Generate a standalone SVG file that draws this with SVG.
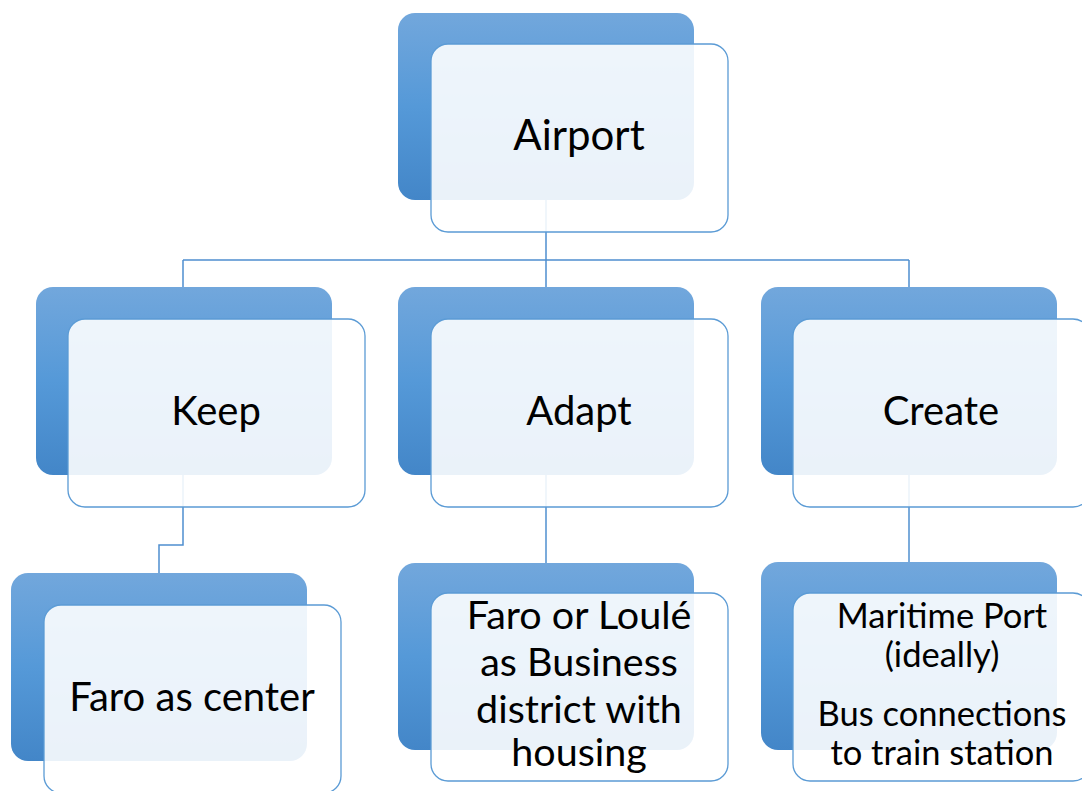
<svg xmlns="http://www.w3.org/2000/svg" width="1082" height="791" viewBox="0 0 1082 791">
<defs>
<linearGradient id="bg" x1="0" y1="0" x2="0" y2="1">
<stop offset="0" stop-color="#72a7dc"/>
<stop offset="0.5" stop-color="#5599d8"/>
<stop offset="1" stop-color="#4386c8"/>
</linearGradient>
</defs>
<style>
.back{fill:url(#bg);}
.front{fill:#ffffff;fill-opacity:0.89;stroke:#5b9bd5;stroke-width:1.3;}
.conn{fill:none;stroke:#4f8fcf;stroke-width:1.5;}
text{font-family:Lato,"Liberation Sans",sans-serif;fill:#000;text-anchor:middle;}
.t1{font-size:40px;}
.ta{font-size:42px;}
.t2{font-size:39.5px;}
.t3{font-size:34.5px;}
</style>
<rect width="1082" height="791" fill="#ffffff"/>
<g id="connectors">
<path class="conn" d="M546,200 V260 M183,260 H909 M183,260 V288 M546,260 V288 M909,260 V288"/>
<path class="conn" d="M183,475 V545 H159 V574"/>
<path class="conn" d="M546,475 V564"/>
<path class="conn" d="M909,475 V563"/>
</g>
<g id="airport">
<rect class="back" x="398" y="13" width="296" height="187" rx="17"/>
<rect class="front" x="431" y="44" width="297" height="188" rx="17"/>
<text class="ta" x="579" y="150">Airport</text>
</g>
<g id="keep">
<rect class="back" x="36" y="287" width="296" height="188" rx="17"/>
<rect class="front" x="68" y="319" width="297" height="188" rx="17"/>
<text class="t1" x="216" y="425">Keep</text>
</g>
<g id="adapt">
<rect class="back" x="398" y="287" width="296" height="188" rx="17"/>
<rect class="front" x="431" y="319" width="297" height="188" rx="17"/>
<text class="t1" x="579" y="425">Adapt</text>
</g>
<g id="create">
<rect class="back" x="761" y="287" width="296" height="188" rx="17"/>
<rect class="front" x="793" y="319" width="297" height="188" rx="17"/>
<text class="t1" x="941" y="425">Create</text>
</g>
<g id="faro-center">
<rect class="back" x="11" y="573" width="296" height="188" rx="17"/>
<rect class="front" x="44" y="605" width="297" height="188" rx="17"/>
<text class="t1" x="192" y="711">Faro as center</text>
</g>
<g id="faro-loule">
<rect class="back" x="398" y="563" width="296" height="187" rx="17"/>
<rect class="front" x="431" y="593" width="297" height="188" rx="17"/>
<text class="t2" x="579" y="629">Faro or Loulé</text>
<text class="t2" x="579" y="676">as Business</text>
<text class="t2" x="579" y="723">district with</text>
<text class="t2" x="579" y="766">housing</text>
</g>
<g id="port-bus">
<rect class="back" x="761" y="562" width="296" height="188" rx="17"/>
<rect class="front" x="793" y="593" width="297" height="188" rx="17"/>
<text class="t3" x="942" y="628">Maritime Port</text>
<text class="t3" x="942" y="667">(ideally)</text>
<text class="t3" x="942" y="726">Bus connections</text>
<text class="t3" x="942" y="765">to train station</text>
</g>
</svg>
